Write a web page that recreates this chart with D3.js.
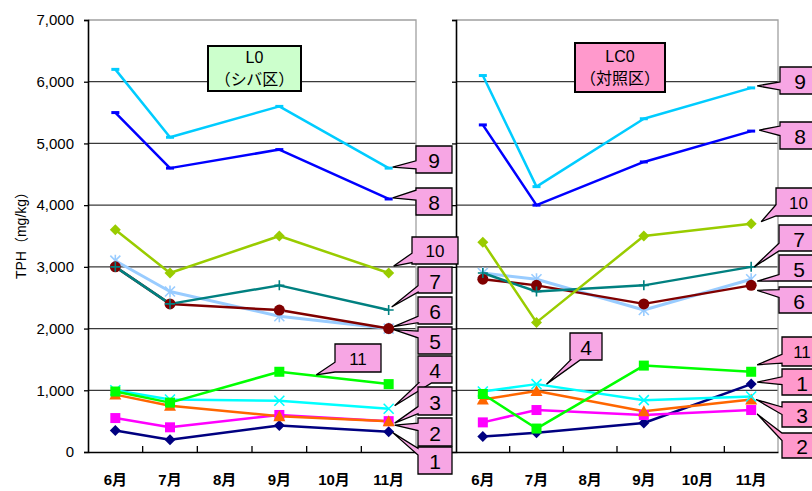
<!DOCTYPE html>
<html>
<head>
<meta charset="utf-8">
<script src="https://cdn.jsdelivr.net/npm/d3@7"></script>
<style>
  body { margin: 0; background: #fff; }
  svg { display: block; }
</style>
</head>
<body>
<svg id="chart" width="812" height="491"></svg>
<script>
// Months on the category axis and the months when samples were taken
const months = ["6月", "7月", "8月", "9月", "10月", "11月"];
const sampled = ["6月", "7月", "9月", "11月"];
const yTicks = [0, 1000, 2000, 3000, 4000, 5000, 6000, 7000];

// Sampling points 1..11
const pointIds = ["1", "2", "3", "4", "5", "6", "7", "8", "9", "10", "11"];
const pointColors = ["#000080", "#FF00FF", "#FF6600", "#00FFFF", "#99CCFF", "#800000",
                     "#008080", "#0000FF", "#00CCFF", "#99CC00", "#00FF00"];
const pointMarkers = ["diamond", "square", "triangle", "cross", "asterisk", "circle",
                      "plus", "dash", "dash", "diamond", "square"];

// TPH (mg/kg), one row per sampling point, columns follow `sampled`
const tphL0 = [
  [350, 200, 430, 330],
  [550, 400, 600, 500],
  [930, 750, 580, 500],
  [1000, 850, 830, 700],
  [3100, 2600, 2200, 2000],
  [3000, 2400, 2300, 2000],
  [3000, 2400, 2700, 2300],
  [5500, 4600, 4900, 4100],
  [6200, 5100, 5600, 4600],
  [3600, 2900, 3500, 2900],
  [980, 800, 1300, 1100]
];
const tphLC0 = [
  [250, 310, 470, 1100],
  [480, 680, 600, 680],
  [850, 990, 660, 850],
  [980, 1100, 840, 900],
  [2900, 2800, 2300, 2800],
  [2800, 2700, 2400, 2700],
  [2900, 2600, 2700, 3000],
  [5300, 4000, 4700, 5200],
  [6100, 4300, 5400, 5900],
  [3400, 2100, 3500, 3700],
  [940, 380, 1400, 1300]
];

const svg = d3.select("#chart");
const FONT = "'Liberation Sans', Arial, 'Noto Sans CJK JP', sans-serif";
const PINK = "#F7A6E4";
const ROSE = "#FF99CC";

const y = d3.scaleLinear().domain([0, 7000]).range([452, 20]);

// Callout layout: series index, month it points at, tip offset, box, edge and wedge base
const calloutsL0 = [
  { s: 8,  m: "11月", d: [4, -1], box: [416, 146, 36, 27], edge: "left",   base: [0.55, 0.85], fill: PINK },
  { s: 7,  m: "11月", d: [4, -1], box: [416, 188, 36, 27], edge: "left",   base: [0.08, 0.45], fill: PINK },
  { s: 9,  m: "11月", d: [5, -7], box: [412, 237, 46, 27], edge: "left",   base: [0.6, 0.95],  fill: PINK },
  { s: 6,  m: "11月", d: [3, -3], box: [418, 267, 34, 26], edge: "left",   base: [0.72, 0.97], fill: PINK },
  { s: 5,  m: "11月", d: [5, -2], box: [418, 297, 34, 27], edge: "left",   base: [0.72, 0.95], fill: PINK },
  { s: 4,  m: "11月", d: [5, 1],  box: [418, 327, 34, 27], edge: "left",   base: [0.15, 0.4],  fill: PINK },
  { s: 3,  m: "11月", d: [6, -3], box: [418, 356, 34, 27], edge: "bottom", base: [0.02, 0.4],  fill: PINK },
  { s: 2,  m: "11月", d: [6, 2],  box: [418, 387, 34, 28], edge: "left",   base: [0.7, 0.95],  fill: PINK },
  { s: 1,  m: "11月", d: [6, 4],  box: [418, 418, 34, 28], edge: "left",   base: [0.18, 0.45], fill: PINK },
  { s: 0,  m: "11月", d: [4, 1],  box: [418, 447, 34, 27], edge: "left",   base: [0.05, 0.3],  fill: PINK },
  { s: 10, m: "9月",  d: [37, 3], box: [335, 344, 46, 28], edge: "left",   base: [0.65, 1.0],  fill: PINK }
];
const calloutsLC0 = [
  { s: 8,  m: "11月", d: [6, -2], box: [780, 67, 40, 27],  edge: "left",   base: [0.55, 0.85], fill: PINK },
  { s: 7,  m: "11月", d: [8, -1], box: [780, 122, 40, 27], edge: "left",   base: [0.15, 0.5],  fill: PINK },
  { s: 9,  m: "11月", d: [10, -2], box: [776, 188, 45, 28], edge: "left",  base: [0.6, 1.0],   fill: PINK },
  { s: 6,  m: "11月", d: [3, 0],  box: [779, 225, 40, 26], edge: "left",   base: [0.7, 1.0],   fill: PINK },
  { s: 4,  m: "11月", d: [6, 2],  box: [779, 255, 40, 26], edge: "left",   base: [0.75, 1.0],  fill: PINK },
  { s: 5,  m: "11月", d: [6, 5],  box: [779, 287, 40, 26], edge: "left",   base: [0.1, 0.4],   fill: PINK },
  { s: 10, m: "11月", d: [6, -7], box: [782, 337, 40, 29], edge: "left",   base: [0.6, 0.9],   fill: ROSE },
  { s: 0,  m: "11月", d: [6, -2], box: [782, 369, 40, 26], edge: "left",   base: [0.3, 0.6],   fill: ROSE },
  { s: 2,  m: "11月", d: [5, 0],  box: [782, 402, 40, 25], edge: "left",   base: [0.2, 0.5],   fill: ROSE },
  { s: 1,  m: "11月", d: [6, 4],  box: [782, 433, 40, 25], edge: "left",   base: [0.0, 0.3],   fill: ROSE },
  { s: 3,  m: "7月",  d: [10, 0], box: [570, 333, 32, 27], edge: "bottom", base: [0.02, 0.32], fill: PINK }
];

const panels = [
  { x0: 88,  x1: 416, values: tphL0,  labels: true,
    title: ["L0", "（シバ区）"],  titleBox: [208, 46, 93, 45], titleFill: "#CCFFCC", callouts: calloutsL0 },
  { x0: 456, x1: 778, values: tphLC0, labels: false,
    title: ["LC0", "（対照区）"], titleBox: [575, 43, 90, 49], titleFill: "#FF99CC", callouts: calloutsLC0 }
];

function drawMarker(g, type, color, cx, cy) {
  const m = g.append("g").attr("transform", `translate(${cx},${cy})`);
  const r = 5.5;
  switch (type) {
    case "diamond":
      m.append("path").attr("d", `M0,${-r}L${r},0L0,${r}L${-r},0Z`).attr("fill", color);
      break;
    case "square":
      m.append("rect").attr("x", -5).attr("y", -5).attr("width", 10).attr("height", 10).attr("fill", color);
      break;
    case "triangle":
      m.append("path").attr("d", "M0,-6L6,5L-6,5Z").attr("fill", color);
      break;
    case "circle":
      m.append("circle").attr("r", 5.5).attr("fill", color);
      break;
    case "cross":
      m.append("path").attr("d", "M-5,-5L5,5M-5,5L5,-5").attr("stroke", color).attr("stroke-width", 1.6);
      break;
    case "asterisk":
      m.append("path").attr("d", "M-5,-5L5,5M-5,5L5,-5M0,-6L0,6").attr("stroke", color).attr("stroke-width", 1.6);
      break;
    case "plus":
      m.append("path").attr("d", "M-5,0L5,0M0,-5L0,5").attr("stroke", color).attr("stroke-width", 1.6);
      break;
    case "dash":
      m.append("path").attr("d", "M-4,0L4,0").attr("stroke", color).attr("stroke-width", 3);
      break;
  }
}

function calloutPath(c, tip) {
  const [x, yy, w, h] = c.box;
  const [a, b] = c.base;
  const [tx, ty] = tip;
  if (c.edge === "left") {
    return `M${x},${yy}H${x + w}V${yy + h}H${x}V${yy + h * b}L${tx},${ty}L${x},${yy + h * a}Z`;
  }
  if (c.edge === "bottom") {
    return `M${x},${yy}H${x + w}V${yy + h}H${x + w * b}L${tx},${ty}L${x + w * a},${yy + h}H${x}Z`;
  }
  return `M${x},${yy}H${x + w * a}L${tx},${ty}L${x + w * b},${yy}H${x + w}V${yy + h}H${x}Z`;
}

// Axis title
svg.append("text")
  .attr("transform", "translate(21,232) rotate(-90)")
  .attr("text-anchor", "middle")
  .attr("dominant-baseline", "central")
  .attr("font-family", FONT)
  .attr("font-size", 14)
  .attr("fill", "#000")
  .text("TPH（mg/kg）");

const layerPlot = svg.append("g");
const layerLabels = svg.append("g");

panels.forEach(p => {
  const x = d3.scaleBand().domain(months).range([p.x0, p.x1]);
  const cx = m => x(m) + x.bandwidth() / 2;
  const g = layerPlot.append("g");

  // horizontal gridlines
  g.append("g").selectAll("line")
    .data(yTicks.filter(t => t > 0 && t < 7000))
    .join("line")
    .attr("x1", p.x0).attr("x2", p.x1)
    .attr("y1", d => y(d)).attr("y2", d => y(d))
    .attr("stroke", "#3a3a3a").attr("stroke-width", 1.3);

  // plot frame: top and right in grey
  g.append("path")
    .attr("d", `M${p.x0},${y(7000)}H${p.x1}V${y(0)}`)
    .attr("fill", "none").attr("stroke", "#a0a0a0").attr("stroke-width", 1.3);

  // value axis
  const yAxis = d3.axisLeft(y).tickValues(yTicks).tickSize(4).tickPadding(10)
    .tickFormat(p.labels ? d3.format(",") : () => "");
  const ya = g.append("g").attr("transform", `translate(${p.x0},0)`).call(yAxis);
  ya.select(".domain").attr("stroke", "#000").attr("stroke-width", 1.6);
  ya.selectAll(".tick line").attr("stroke", "#000").attr("stroke-width", 1.3);
  ya.selectAll(".tick text").attr("font-family", FONT).attr("font-size", 15).attr("fill", "#000");

  // category axis
  const xAxis = d3.axisBottom(x).tickSize(0).tickPadding(22);
  const xa = g.append("g").attr("transform", `translate(0,${y(0)})`).call(xAxis);
  xa.select(".domain").attr("stroke", "#000").attr("stroke-width", 1.6);
  xa.selectAll(".tick text").attr("font-family", FONT).attr("font-size", 15)
    .attr("font-weight", "bold").attr("fill", "#000");
  g.append("g").selectAll("line")
    .data(months.slice(1))
    .join("line")
    .attr("x1", d => x(d)).attr("x2", d => x(d))
    .attr("y1", y(0)).attr("y2", y(0) - 6)
    .attr("stroke", "#000").attr("stroke-width", 1.3);

  // series lines and markers
  const line = d3.line().x((v, i) => cx(sampled[i])).y(v => y(v));
  p.values.forEach((vals, s) => {
    g.append("path")
      .attr("d", line(vals))
      .attr("fill", "none")
      .attr("stroke", pointColors[s])
      .attr("stroke-width", s === 4 ? 3 : 2.5)
      .attr("stroke-linejoin", "round");
  });
  p.values.forEach((vals, s) => {
    vals.forEach((v, i) => drawMarker(g, pointMarkers[s], pointColors[s], cx(sampled[i]), y(v)));
  });

  // panel title box
  const [bx, by, bw, bh] = p.titleBox;
  const tg = layerLabels.append("g");
  tg.append("rect").attr("x", bx).attr("y", by).attr("width", bw).attr("height", bh)
    .attr("fill", p.titleFill).attr("stroke", "#000").attr("stroke-width", 2);
  tg.selectAll("text").data(p.title).join("text")
    .attr("x", bx + bw / 2)
    .attr("y", (d, i) => by + bh / 2 + (i === 0 ? -11 : 11))
    .attr("text-anchor", "middle").attr("dominant-baseline", "central")
    .attr("font-family", FONT).attr("font-size", 16).attr("fill", "#000")
    .text(d => d);

  // callouts naming each sampling point
  p.callouts.forEach(c => {
    const v = p.values[c.s][sampled.indexOf(c.m)];
    const tip = [cx(c.m) + c.d[0], y(v) + c.d[1]];
    const cg = layerLabels.append("g");
    cg.append("path").attr("d", calloutPath(c, tip))
      .attr("fill", c.fill).attr("stroke", "#000").attr("stroke-width", 1.3)
      .attr("stroke-linejoin", "miter");
    const label = pointIds[c.s];
    cg.append("text")
      .attr("x", c.box[0] + c.box[2] / 2)
      .attr("y", c.box[1] + c.box[3] / 2 + 1)
      .attr("text-anchor", "middle").attr("dominant-baseline", "central")
      .attr("font-family", FONT)
      .attr("font-size", label.length > 1 ? 17 : 21)
      .attr("fill", "#000")
      .text(label);
  });
});
</script>
</body>
</html>
